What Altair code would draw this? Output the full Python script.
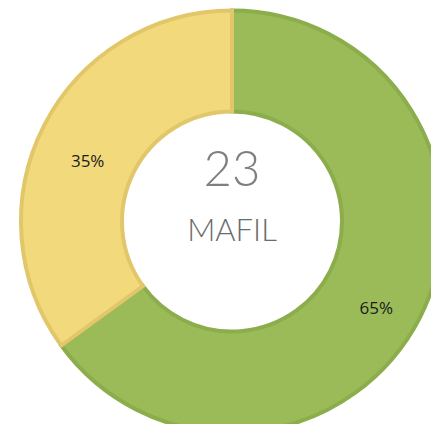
import altair as alt
import pandas as pd

categories = ["A", "B"]
values = [65, 35]
labels = ["65%", "35%"]
fill_colors = ["#9BBB59", "#F2DA7C"]
stroke_colors = ["#8CAD4C", "#E2C76A"]
center_number = "23"
center_name = "MAFIL"

df = pd.DataFrame({"cat": categories, "val": values, "label": labels, "ord": [0, 1]})

CX, CY = 224, 213.5

base = alt.Chart(df).encode(
    theta=alt.Theta("val:Q", stack=True),
    order=alt.Order("ord:Q"),
)

arcs = base.mark_arc(radius=211, radius2=110, strokeWidth=4).encode(
    x=alt.value(CX),
    y=alt.value(CY),
    color=alt.Color("cat:N", scale=alt.Scale(domain=categories, range=fill_colors), legend=None),
    stroke=alt.Stroke("cat:N", scale=alt.Scale(domain=categories, range=stroke_colors), legend=None),
)

text = base.mark_text(radius=162, dy=14, font="Open Sans", fontSize=17, color="#1a1a1a").encode(
    x=alt.value(CX),
    y=alt.value(CY),
    text="label:N",
)

num = alt.Chart(pd.DataFrame({"t": [center_number]})).mark_text(
    font="Lato", fontWeight=300, fontSize=49, color="#7f7f7f", baseline="alphabetic"
).encode(x=alt.value(CX), y=alt.value(178), text="t:N")

name = alt.Chart(pd.DataFrame({"t": [center_name]})).mark_text(
    font="Lato", fontWeight=300, fontSize=31, color="#6b6b6b", baseline="alphabetic"
).encode(x=alt.value(CX), y=alt.value(233), text="t:N")

chart = alt.layer(arcs, text, num, name).properties(
    width=423, height=416, padding=0, autosize="none"
).configure_view(stroke=None)

chart.save("out.html", embed_options={"renderer": "svg", "actions": False})
